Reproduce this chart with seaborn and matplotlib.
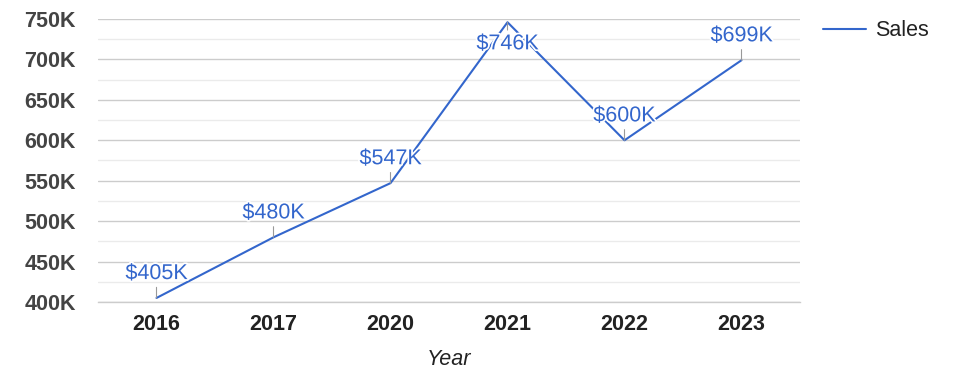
import matplotlib
matplotlib.use("Agg")
import matplotlib.pyplot as plt
import matplotlib.patheffects as pe
import seaborn as sns
import pandas as pd
from matplotlib.ticker import MultipleLocator, FuncFormatter

years = ["2016", "2017", "2020", "2021", "2022", "2023"]
sales = [405000, 480000, 547000, 746000, 600000, 699000]
labels = ["$405K", "$480K", "$547K", "$746K", "$600K", "$699K"]
label_below = [False, False, False, True, False, False]
yticks = [400000, 450000, 500000, 550000, 600000, 650000, 700000, 750000]

df = pd.DataFrame({"Year": years, "Sales": sales})

sns.set_theme(style="white")
plt.rcParams["font.family"] = ["Liberation Sans", "DejaVu Sans"]

LINE = "#3366cc"
FS = 15.5

fig = plt.figure(figsize=(9.75, 3.78), dpi=100)
ax = fig.add_axes([98 / 975, 1 - 302 / 378, 702 / 975, 283 / 378])

sns.lineplot(data=df, x="Year", y="Sales", ax=ax, color=LINE, linewidth=1.5,
             label="Sales", sort=False)

ax.set_xlim(-0.5, len(years) - 0.5)
ax.set_ylim(yticks[0], yticks[-1])
ax.set_yticks(yticks)
ax.yaxis.set_minor_locator(MultipleLocator(25000))
ax.yaxis.set_major_formatter(FuncFormatter(lambda v, p: f"{int(v/1000)}K"))

ax.grid(True, which="major", axis="y", color="#cccccc", linewidth=1)
ax.grid(True, which="minor", axis="y", color="#ebebeb", linewidth=1)
ax.grid(False, axis="x")
ax.set_axisbelow(True)
for s in ax.spines.values():
    s.set_visible(False)
ax.spines["bottom"].set_visible(True)
ax.spines["bottom"].set_color("#cccccc")
ax.spines["bottom"].set_linewidth(1)
ax.spines["bottom"].set_zorder(0.5)

ax.tick_params(axis="y", which="both", length=0, pad=16, labelsize=FS, labelcolor="#444444")
ax.tick_params(axis="x", length=0, pad=9, labelsize=FS, labelcolor="#222222")
for t in ax.get_yticklabels():
    t.set_fontweight("bold")
for t in ax.get_xticklabels():
    t.set_fontweight("bold")

ax.set_ylabel("")
ax.set_xlabel("Year", fontsize=FS, fontstyle="italic", color="#222222", labelpad=10)

for i, (v, lab, below) in enumerate(zip(sales, labels, label_below)):
    off = -8 if below else 10
    ax.annotate(lab, xy=(i, v), xytext=(0, off), textcoords="offset points",
                ha="center", va="top" if below else "bottom",
                fontsize=FS, color=LINE,
                path_effects=[pe.withStroke(linewidth=2.5, foreground="white")],
                arrowprops=dict(arrowstyle="-", color="#999999", lw=0.8,
                                shrinkA=0, shrinkB=0))

leg = ax.legend(loc="upper left", bbox_to_anchor=(1.033, 0.995), frameon=False,
                fontsize=FS, borderaxespad=0, borderpad=0,
                handlelength=2.0, handletextpad=0.40)
for t in leg.get_texts():
    t.set_color("#222222")

fig.savefig("out.png", dpi=100, facecolor="white")
